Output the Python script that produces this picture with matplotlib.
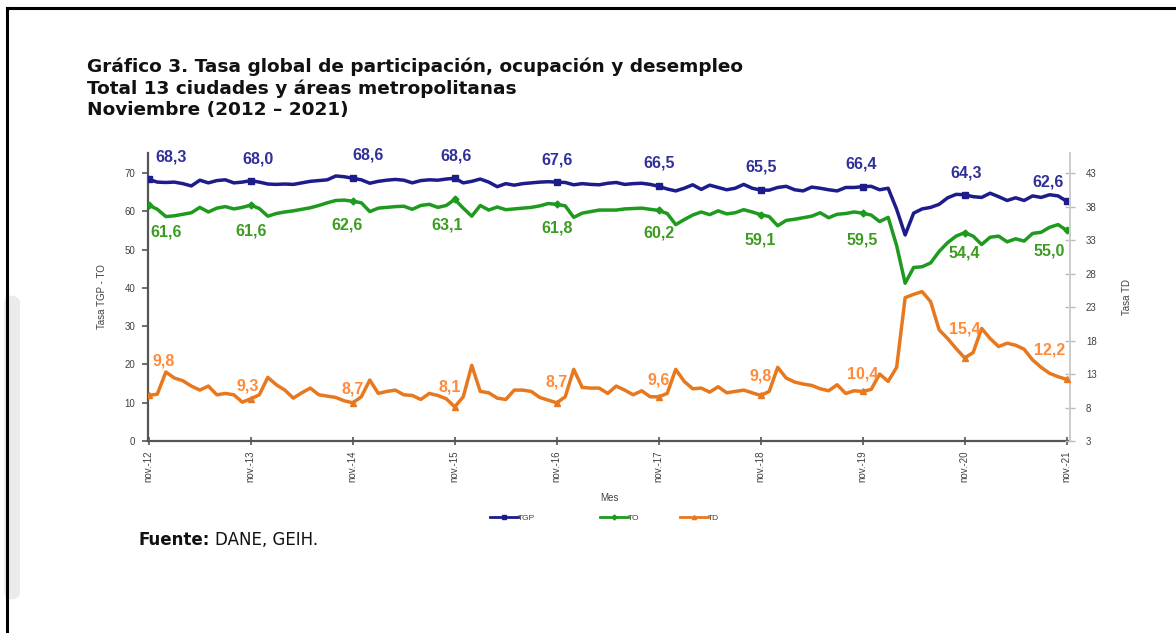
import matplotlib
matplotlib.use("Agg")
import matplotlib.pyplot as plt
from matplotlib.lines import Line2D
from matplotlib.patches import FancyBboxPatch

# monthly series nov-2012 .. nov-2021
tgp = [68.3, 67.6, 67.5, 67.6, 67.2, 66.6, 68.1, 67.4, 68.0, 68.2, 67.4, 67.6,
       68.0, 67.6, 67.1, 67.0, 67.1, 67.0, 67.4, 67.8, 68.0, 68.2, 69.2, 69.0,
       68.6, 68.2, 67.3, 67.8, 68.1, 68.3, 68.1, 67.4, 68.0, 68.2, 68.1, 68.4,
       68.6, 67.4, 67.8, 68.4, 67.6, 66.4, 67.2, 66.8, 67.2, 67.4, 67.6, 67.7,
       67.6, 67.5, 66.9, 67.2, 67.0, 66.9, 67.3, 67.5, 67.0, 67.2, 67.3, 67.0,
       66.5, 65.8, 65.3, 66.0, 66.9, 65.7, 66.8, 66.2, 65.6, 66.0, 67.0, 66.0,
       65.5, 65.5, 66.2, 66.5, 65.6, 65.3, 66.3, 66.0, 65.6, 65.3, 66.2, 66.2,
       66.4, 66.5, 65.6, 66.0, 60.5, 53.8, 59.5, 60.6, 61.0, 61.8, 63.5, 64.4,
       64.3, 63.8, 63.6, 64.7, 63.8, 62.8, 63.5, 62.8, 64.0, 63.6, 64.3, 64.0,
       62.6]
to = [61.6, 60.5, 58.6, 58.8, 59.2, 59.6, 61.0, 59.8, 60.8, 61.2, 60.6, 61.0,
      61.6, 60.7, 58.7, 59.4, 59.8, 60.1, 60.5, 60.9, 61.5, 62.2, 62.8, 62.9,
      62.6, 62.2, 59.9, 60.8, 61.0, 61.2, 61.3, 60.5, 61.5, 61.8, 61.0, 61.5,
      63.1, 60.8, 58.7, 61.5, 60.3, 61.1, 60.4, 60.6, 60.8, 61.0, 61.4, 62.0,
      61.8, 61.4, 58.4, 59.5, 59.9, 60.3, 60.3, 60.3, 60.6, 60.7, 60.8, 60.5,
      60.2, 59.4, 56.5, 57.8, 59.0, 59.8, 59.1, 60.1, 59.3, 59.6, 60.4, 59.8,
      59.1, 58.6, 56.2, 57.6, 57.9, 58.3, 58.7, 59.6, 58.3, 59.2, 59.4, 59.8,
      59.5, 59.0, 57.3, 58.4, 51.0, 41.2, 45.3, 45.5, 46.5, 49.5, 51.8, 53.5,
      54.4, 53.5, 51.3, 53.2, 53.5, 52.0, 52.8, 52.2, 54.2, 54.5, 55.8, 56.5,
      55.0]
td = [9.8, 10.0, 13.3, 12.4, 12.0, 11.2, 10.6, 11.2, 9.9, 10.1, 9.9, 8.8,
      9.3, 9.9, 12.5, 11.4, 10.6, 9.4, 10.2, 10.9, 9.9, 9.7, 9.5, 9.0,
      8.7, 9.6, 12.1, 10.1, 10.4, 10.6, 9.9, 9.8, 9.2, 10.1, 9.8, 9.3,
      8.1, 9.6, 14.3, 10.4, 10.2, 9.4, 9.2, 10.6, 10.6, 10.4, 9.5, 9.1,
      8.7, 9.6, 13.7, 11.0, 10.9, 10.9, 10.1, 11.2, 10.6, 9.9, 10.5, 9.6,
      9.6, 10.1, 13.7, 11.9, 10.8, 10.9, 10.3, 11.1, 10.2, 10.4, 10.6, 10.2,
      9.8, 10.4, 14.0, 12.4, 11.8, 11.5, 11.3, 10.8, 10.5, 11.4, 10.1, 10.5,
      10.4, 10.7, 13.0, 11.9, 14.0, 24.4, 24.9, 25.3, 23.8, 19.6, 18.3, 16.8,
      15.4, 16.2, 19.8, 18.3, 17.1, 17.6, 17.3, 16.7, 15.1, 14.0, 13.1, 12.6,
      12.2]
years = list(range(12, 22))
tick_labels = ["nov.-%d" % y for y in years]
nov_idx = [12 * k for k in range(len(years))]
series_names = ["TGP", "TO", "TD"]

c_tgp = "#1c1c8a"
c_to = "#1e9a1e"
c_td = "#e8781e"
lab_tgp = "#30309a"
lab_to = "#3c9c20"
lab_td = "#ff8a3a"
axis_gray = "#555555"

fig = plt.figure(figsize=(11.76, 6.33), dpi=100)
W, H = 1176, 633

def fx(px):
    return px / W

def fy(py):
    return 1 - py / H

# frame of the screenshot
fig.add_artist(Line2D([fx(7), 1], [fy(8), fy(8)], color="black", lw=2.2))
fig.add_artist(Line2D([fx(7), fx(7)], [fy(8), 0], color="black", lw=2.2))
fig.add_artist(FancyBboxPatch((fx(4), fy(600)), fx(16), fy(295) - fy(600),
                              boxstyle="round,pad=0,rounding_size=0.012",
                              transform=fig.transFigure, facecolor="#ebebeb",
                              edgecolor="none", zorder=0))

ax = fig.add_axes([fx(148), fy(441), fx(1070) - fx(148), fy(153) - fy(441)])
ax2 = ax.twinx()

x = list(range(len(tgp)))
ax.plot(x, tgp, color=c_tgp, lw=2.5, marker="s", ms=5, markevery=nov_idx, zorder=3)
ax.plot(x, to, color=c_to, lw=2.5, marker="D", ms=3.5, markevery=nov_idx, zorder=3)
ax2.plot(x, td, color=c_td, lw=2.5, marker="^", ms=5, markevery=nov_idx, zorder=3)

ax.set_xlim(-0.1, 108.4)
ax.set_ylim(0, 75.2)
ax2.set_ylim(3, 46.0)
ax.set_yticks(range(0, 71, 10))
ax2.set_yticks(range(3, 44, 5))
ax.set_xticks(nov_idx)
ax.set_xticklabels(tick_labels, rotation=90, fontsize=7, color="#404040",
                   family="Liberation Sans")

for a in (ax, ax2):
    a.spines["top"].set_visible(False)
    for t in a.get_yticklabels():
        t.set_fontsize(7)
        t.set_color("#404040")
        t.set_family("Liberation Sans")
ax.spines["left"].set_color(axis_gray)
ax.spines["left"].set_linewidth(1.6)
ax.spines["bottom"].set_color(axis_gray)
ax.spines["bottom"].set_linewidth(1.6)
ax.spines["right"].set_visible(False)
ax2.spines["left"].set_visible(False)
ax2.spines["bottom"].set_visible(False)
ax2.spines["right"].set_color("#cccccc")
ax2.spines["right"].set_linewidth(1.4)
ax.tick_params(axis="y", direction="out", length=4, width=1.2, color=axis_gray, pad=5)
ax.tick_params(axis="x", direction="inout", length=6, width=1.2, color=axis_gray, pad=4)
ax2.tick_params(axis="y", direction="inout", length=7, width=1, color="#bbbbbb", pad=8)

ax.set_ylabel("Tasa TGP - TO", fontsize=7, color="#404040", family="Liberation Sans",
              labelpad=13)
ax2.set_ylabel("Tasa TD", fontsize=7, color="#404040", family="Liberation Sans",
               labelpad=18)
ax.set_xlabel("Mes", fontsize=7, color="#404040", family="Liberation Sans", labelpad=8)

def fmt(v):
    return ("%.1f" % v).replace(".", ",")

# data labels on november points
tgp_off = [(22, 22), (7, 22), (15, 23), (1, 22), (0, 22), (0, 23), (0, 23), (-2, 23), (1, 22), (-19, 19)]
to_off = [(17, -27), (0, -26), (-6, -24), (-8, -26), (0, -24), (0, -23), (0, -25), (0, -27), (0, -20), (-17, -21)]
td_off = [(15, 34), (-3, 13), (0, 14), (-5, 20), (0, 21), (0, 17), (0, 19), (0, 17), (0, 29), (-17, 29)]
lab_style = dict(textcoords="offset pixels", ha="center", va="center", fontsize=11.5,
                 fontweight="bold", family="Liberation Sans", zorder=5)
for k, i in enumerate(nov_idx):
    ax.annotate(fmt(tgp[i]), (i, tgp[i]), xytext=tgp_off[k], color=lab_tgp, **lab_style)
    ax.annotate(fmt(to[i]), (i, to[i]), xytext=to_off[k], color=lab_to, **lab_style)
    ax2.annotate(fmt(td[i]), (i, td[i]), xytext=td_off[k], color=lab_td, **lab_style)

# legend: one small legend per series, placed like the original
handles = [Line2D([], [], color=c_tgp, lw=2, marker="s", ms=3),
           Line2D([], [], color=c_to, lw=2, marker="D", ms=2.5),
           Line2D([], [], color=c_td, lw=2, marker="^", ms=3)]
leg_x = [490, 600, 680]
for h, name, lx in zip(handles, series_names, leg_x):
    leg = fig.legend([h], [name], loc="center left", bbox_to_anchor=(fx(lx), fy(518)),
                     frameon=False, handlelength=3.3, handletextpad=0.1,
                     borderpad=0, borderaxespad=0,
                     prop={"family": "Liberation Sans", "size": 6})
    leg.get_texts()[0].set_color("#404040")

title = ("Gráfico 3. Tasa global de participación, ocupación y desempleo\n"
         "Total 13 ciudades y áreas metropolitanas\n"
         "Noviembre (2012 – 2021)")
fig.text(fx(87), fy(57), title, ha="left", va="top", fontsize=13.3,
         fontweight="bold", family="DejaVu Sans", linespacing=1.25, color="#111111")

src = fig.text(fx(139), fy(540), "Fuente:", ha="left", va="center", fontsize=12,
               fontweight="bold", family="DejaVu Sans", color="#111111")
fig.canvas.draw()
bb = src.get_window_extent()
fig.text((bb.x1 + 5) / W, fy(540), "DANE, GEIH.", ha="left", va="center",
         fontsize=12, family="DejaVu Sans", color="#111111")

fig.savefig("out.png", dpi=100)
